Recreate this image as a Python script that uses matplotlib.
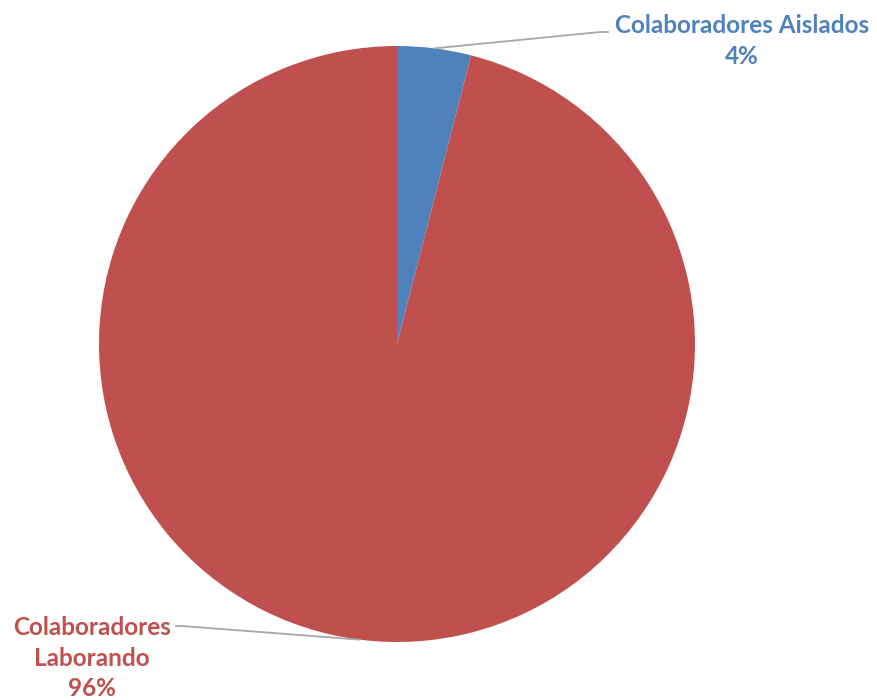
import numpy as np
import matplotlib.pyplot as plt

labels = ["Colaboradores Aislados", "Colaboradores\nLaborando"]
values = [4, 96]
colors = ["#4F81BD", "#C0504D"]

W, H = 878, 700
fig = plt.figure(figsize=(W / 100, H / 100), dpi=100)
ax = fig.add_axes([0, 0, 1, 1])

cx, cy, r = 397, 356, 298
wedges, _ = ax.pie(values, colors=colors, startangle=90, counterclock=False,
                   center=(cx, cy), radius=r, frame=True,
                   wedgeprops=dict(linewidth=0))
ax.set_xlim(0, W)
ax.set_ylim(0, H)
ax.set_aspect("equal")
ax.axis("off")

font = dict(family=["Lato", "DejaVu Sans"], fontweight="bold", fontsize=17.5)

# label positions (text anchor) and the elbow of the leader line
label_pos = [(742, 659), (92, 42)]
elbow = [(608, 668), (176, 74)]
knee = [(600, 668), (182, 74)]

for i, w in enumerate(wedges):
    ang = np.deg2rad((w.theta1 + w.theta2) / 2)
    px, py = cx + r * np.cos(ang), cy + r * np.sin(ang)
    ax.plot([px, knee[i][0], elbow[i][0]], [py, knee[i][1], elbow[i][1]],
            color="#A6A6A6", lw=1.3, zorder=1)
    txt = "%s\n%d%%" % (labels[i], values[i])
    ax.text(label_pos[i][0], label_pos[i][1], txt, color=colors[i],
            ha="center", va="center", linespacing=1.42, **font)

fig.savefig("out.png", dpi=100)
